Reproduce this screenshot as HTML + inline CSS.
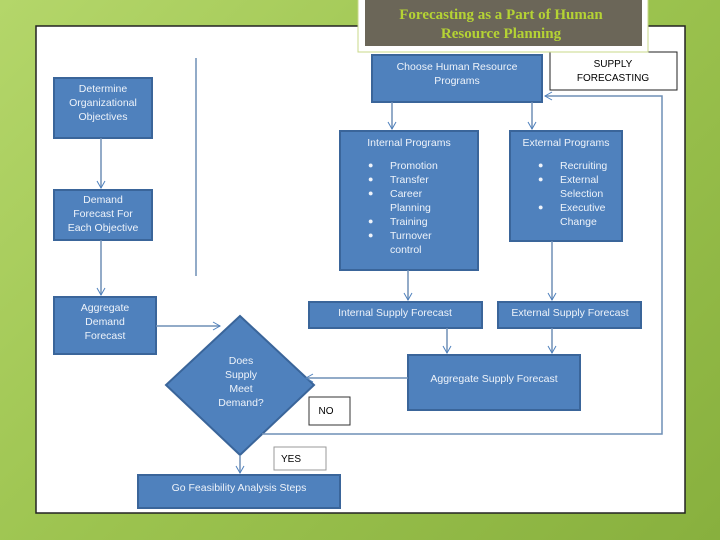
<!DOCTYPE html>
<html><head><style>
body{margin:0;width:720px;height:540px;overflow:hidden;background:linear-gradient(135deg,#b4d66a 0%,#9cc34f 50%,#88b03e 100%);font-family:"Liberation Sans",sans-serif}
svg{position:absolute;left:0;top:0}
</style></head><body>
<svg width="720" height="540" viewBox="0 0 720 540">
<defs><marker id="a" markerWidth="10" markerHeight="10" refX="8" refY="5" orient="auto" markerUnits="userSpaceOnUse"><path d="M1,1 L8,5 L1,9" fill="none" stroke="#4f81bd" stroke-width="1"/></marker></defs>
<rect x="36" y="26" width="649" height="487" fill="#fff" stroke="#222" stroke-width="1.5"/>
<g fill="#4f81bd" stroke="#3a659a" stroke-width="2">
<rect x="54" y="78" width="98" height="60"/>
<rect x="54" y="190" width="98" height="50"/>
<rect x="54" y="297" width="102" height="57"/>
<rect x="372" y="55" width="170" height="47"/>
<rect x="340" y="131" width="138" height="139"/>
<rect x="510" y="131" width="112" height="110"/>
<rect x="309" y="302" width="173" height="26"/>
<rect x="498" y="302" width="143" height="26"/>
<rect x="408" y="355" width="172" height="55"/>
<polygon points="240,316 314,385 240,455 166,385"/>
<rect x="138" y="475" width="202" height="33"/>
</g>
<rect x="550" y="52" width="127" height="38" fill="#fff" stroke="#222"/>
<rect x="309" y="397" width="41" height="28" fill="#fff" stroke="#333"/>
<rect x="274" y="447" width="52" height="23" fill="#fff" stroke="#999"/>
<g stroke="#6f8fb5" stroke-width="1.5" fill="none">
<line x1="196" y1="58" x2="196" y2="276"/>
<line x1="101" y1="138" x2="101" y2="188" marker-end="url(#a)"/>
<line x1="101" y1="240" x2="101" y2="295" marker-end="url(#a)"/>
<line x1="156" y1="326" x2="220" y2="326" marker-end="url(#a)"/>
<line x1="392" y1="102" x2="392" y2="129" marker-end="url(#a)"/>
<line x1="532" y1="102" x2="532" y2="129" marker-end="url(#a)"/>
<line x1="408" y1="270" x2="408" y2="300" marker-end="url(#a)"/>
<line x1="552" y1="241" x2="552" y2="300" marker-end="url(#a)"/>
<line x1="447" y1="328" x2="447" y2="353" marker-end="url(#a)"/>
<line x1="552" y1="328" x2="552" y2="353" marker-end="url(#a)"/>
<line x1="408" y1="378" x2="306" y2="378" marker-end="url(#a)"/>
<line x1="240" y1="455" x2="240" y2="473" marker-end="url(#a)"/>
<polyline points="262,434 662,434 662,96 545,96" marker-end="url(#a)"/>
</g>
<g fill="#eef3fa" font-size="10.5" text-anchor="middle">
<text x="103" y="92">Determine</text><text x="103" y="106">Organizational</text><text x="103" y="120">Objectives</text>
<text x="103" y="203">Demand</text><text x="103" y="217">Forecast For</text><text x="103" y="231">Each Objective</text>
<text x="105" y="311">Aggregate</text><text x="105" y="325">Demand</text><text x="105" y="339">Forecast</text>
<text x="457" y="70">Choose Human Resource</text><text x="457" y="84">Programs</text>
<text x="409" y="146">Internal Programs</text>
<text x="566" y="146">External Programs</text>
<text x="395" y="316">Internal Supply Forecast</text>
<text x="570" y="316">External Supply Forecast</text>
<text x="494" y="382">Aggregate Supply Forecast</text>
<text x="241" y="364">Does</text><text x="241" y="378">Supply</text><text x="241" y="392">Meet</text><text x="241" y="406">Demand?</text>
<text x="239" y="491">Go Feasibility Analysis Steps</text>
</g>
<g fill="#eef3fa" font-size="10.5">
<text x="390" y="169">Promotion</text><text x="390" y="183">Transfer</text><text x="390" y="197">Career</text><text x="390" y="211">Planning</text><text x="390" y="225">Training</text><text x="390" y="239">Turnover</text><text x="390" y="253">control</text>
<text x="560" y="169">Recruiting</text><text x="560" y="183">External</text><text x="560" y="197">Selection</text><text x="560" y="211">Executive</text><text x="560" y="225">Change</text>
<g font-size="9"><text x="368" y="168">●</text><text x="368" y="182">●</text><text x="368" y="196">●</text><text x="368" y="224">●</text><text x="368" y="238">●</text>
<text x="538" y="168">●</text><text x="538" y="182">●</text><text x="538" y="210">●</text></g>
</g>
<g fill="#000" font-size="10" text-anchor="middle">
<text x="613" y="67">SUPPLY</text><text x="613" y="81">FORECASTING</text>
<text x="326" y="414">NO</text><text x="291" y="462">YES</text>
</g>
<rect x="358" y="-2" width="290" height="54" fill="#fff" stroke="#c8d88a"/>
<rect x="365" y="0" width="277" height="46" fill="#6b6658"/>
<g fill="#b5d334" font-family="Liberation Serif,serif" font-size="15" font-weight="bold" text-anchor="middle">
<text x="501" y="19">Forecasting as a Part of Human</text><text x="501" y="38">Resource Planning</text>
</g>
</svg>
</body></html>
